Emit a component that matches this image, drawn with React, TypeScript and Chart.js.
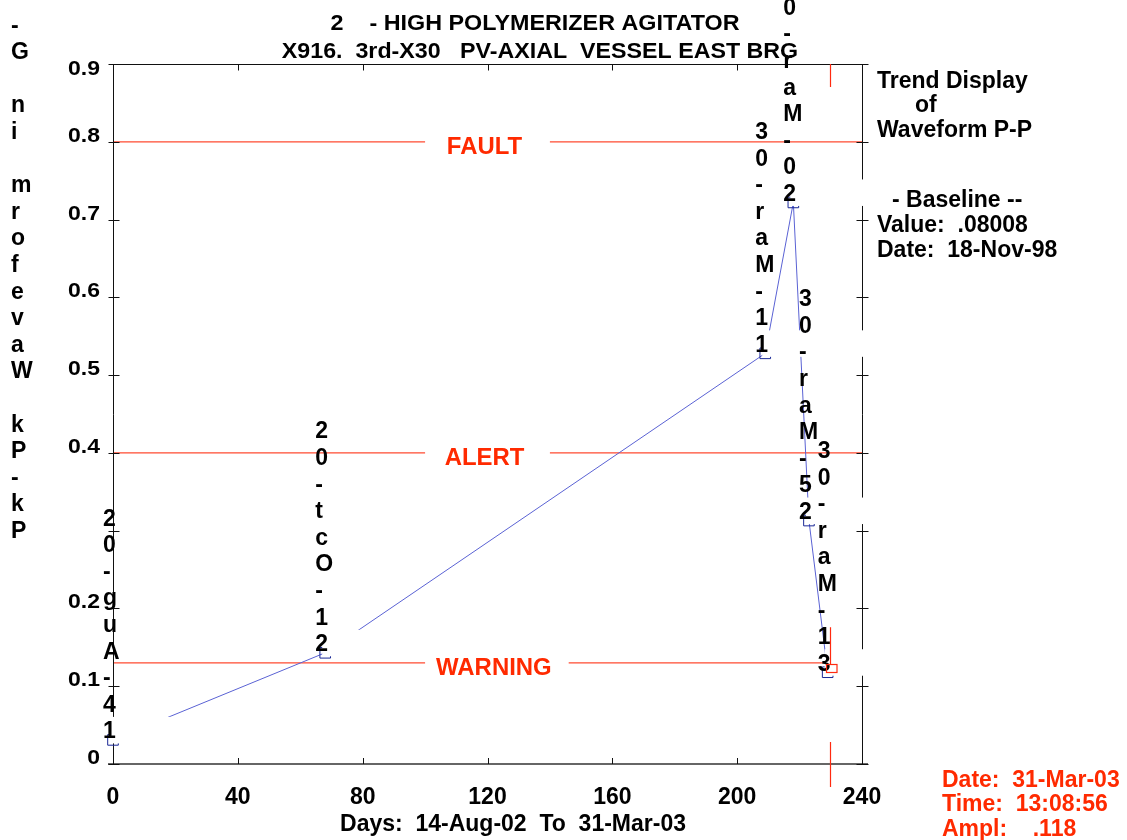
import React, { useEffect, useRef } from 'react';
import { Chart, registerables } from 'chart.js';

Chart.register(...registerables);

// ---- data ----
const pointDates = ['14-Aug-02', '21-Oct-02', '11-Mar-03', '20-Mar-03', '25-Mar-03', '31-Mar-03'];
const pointDays = [0, 68, 209, 218, 223, 229];
const pointValues = [0.031, 0.143, 0.528, 0.722, 0.313, 0.118];

const xTicks = [0, 40, 80, 120, 160, 200, 240];
const xTickLabels = ['0', '40', '80', '120', '160', '200', '240'];
const yTicks = [0, 0.1, 0.2, 0.3, 0.4, 0.5, 0.6, 0.7, 0.8, 0.9];
const yTickLabels = ['0', '0.1', '0.2', '', '0.4', '0.5', '0.6', '0.7', '0.8', '0.9'];

const alarmNames = ['FAULT', 'ALERT', 'WARNING'];
const alarmValues = [0.8, 0.4, 0.13];

const titleLines = ['2    - HIGH POLYMERIZER AGITATOR', 'X916.  3rd-X30   PV-AXIAL  VESSEL EAST BRG'];
const yAxisTitle = 'Pk-Pk Waveform in G-';
const xAxisTitle = 'Days:  14-Aug-02  To  31-Mar-03';
const infoLines = ['Trend Display', 'of', 'Waveform P-P'];
const baselineLines = ['- Baseline --', 'Value:  .08008', 'Date:  18-Nov-98'];
const cursorDay = 229;
const cursorValue = 0.118;
const cursorLines = ['Date:  31-Mar-03', 'Time:  13:08:56', 'Ampl:    .118'];

const FONT = '"Liberation Sans", Arial, Helvetica, sans-serif';
const RED_TEXT = '#ff2a00';
const RED_LINE = '#ff4a30';
const PITCH = 26.6;

type TOpts = { size?: number; sx?: number; sy?: number; align?: CanvasTextAlign; color?: string };

function drawText(ctx: CanvasRenderingContext2D, s: string, x: number, y: number, o: TOpts = {}) {
  const { size = 23, sx = 1, sy = 1, align = 'left', color = '#000' } = o;
  ctx.save();
  ctx.font = `bold ${size}px ${FONT}`;
  ctx.fillStyle = color;
  ctx.textAlign = align;
  ctx.textBaseline = 'alphabetic';
  ctx.translate(x, y);
  ctx.scale(sx, sy);
  ctx.fillText(s, 0, 0);
  ctx.restore();
}

function seg(ctx: CanvasRenderingContext2D, x1: number, y1: number, x2: number, y2: number) {
  ctx.beginPath();
  ctx.moveTo(x1, y1);
  ctx.lineTo(x2, y2);
  ctx.stroke();
}

function alarmGap(ctx: CanvasRenderingContext2D, xs: any, name: string) {
  ctx.save();
  ctx.font = `bold 23px ${FONT}`;
  const w = ctx.measureText(name).width * 1.04;
  ctx.restore();
  const gL = xs.getPixelForValue(100);
  const gR = Math.max(xs.getPixelForValue(140), gL + w + 28);
  return [gL, gR];
}

const decor = {
  id: 'trendDecor',
  beforeDatasetsDraw(chart: any) {
    const ctx: CanvasRenderingContext2D = chart.ctx;
    const { left, right, top, bottom } = chart.chartArea;
    const xs = chart.scales.x;
    const ys = chart.scales.y;
    ctx.save();
    // alarm lines
    ctx.strokeStyle = RED_LINE;
    ctx.lineWidth = 1.2;
    alarmValues.forEach((v, i) => {
      const yy = ys.getPixelForValue(v);
      const [gL, gR] = alarmGap(ctx, xs, alarmNames[i]);
      seg(ctx, left, yy, gL, yy);
      seg(ctx, gR, yy, right, yy);
    });
    // frame
    ctx.strokeStyle = '#111';
    ctx.lineWidth = 1;
    const L = Math.round(left) + 0.5;
    const R = Math.round(right) + 0.5;
    const T = Math.round(top) + 0.5;
    seg(ctx, L, T, R, T);
    seg(ctx, L, T, L, bottom);
    seg(ctx, R, T, R, bottom);
    ctx.strokeStyle = '#333';
    ctx.lineWidth = 1.6;
    seg(ctx, left - 5, bottom, right + 6, bottom);
    ctx.lineWidth = 1;
    ctx.strokeStyle = '#111';
    yTicks.forEach((v) => {
      const yy = Math.round(ys.getPixelForValue(v)) + 0.5;
      seg(ctx, L - 5, yy, L + 6, yy);
      seg(ctx, R - 6, yy, R + 6, yy);
    });
    xTicks.forEach((d) => {
      const xx = Math.round(xs.getPixelForValue(d)) + 0.5;
      seg(ctx, xx, bottom, xx, bottom - 6);
      seg(ctx, xx, T, xx, T + 6);
    });
    ctx.restore();
  },
  afterDatasetsDraw(chart: any) {
    const ctx: CanvasRenderingContext2D = chart.ctx;
    const { left, top, bottom } = chart.chartArea;
    const xs = chart.scales.x;
    const ys = chart.scales.y;
    ctx.save();
    // white label boxes
    ctx.fillStyle = '#fff';
    pointDays.forEach((d, i) => {
      const px = xs.getPixelForValue(d);
      const py = ys.getPixelForValue(pointValues[i]);
      ctx.fillRect(px - 3, py - 23, 103, 26.5);
    });
    // stacked point labels (read bottom to top)
    pointDates.forEach((s, i) => {
      const px = xs.getPixelForValue(pointDays[i]);
      const py = ys.getPixelForValue(pointValues[i]);
      for (let k = 0; k < s.length; k++) {
        drawText(ctx, s[k], px - 10, py - 1.5 - PITCH * k);
      }
    });
    // alarm labels
    alarmValues.forEach((v, i) => {
      const yy = ys.getPixelForValue(v);
      const [gL, gR] = alarmGap(ctx, xs, alarmNames[i]);
      drawText(ctx, alarmNames[i], (gL + gR) / 2 - 3, yy + 12, { align: 'center', color: RED_TEXT, sy: 1.05, sx: 1.04 });
    });
    // cursor
    const cx = xs.getPixelForValue(cursorDay);
    const cy = ys.getPixelForValue(cursorValue);
    ctx.strokeStyle = '#ff2a10';
    ctx.lineWidth = 1.2;
    const lx = Math.round(cx + 2) + 0.5;
    seg(ctx, lx, top, lx, top + 23);
    seg(ctx, lx, cy - 45, lx, cy - 8);
    seg(ctx, lx, bottom - 22, lx, bottom + 23);
    ctx.strokeRect(Math.round(cx - 2) + 0.5, Math.round(cy - 8) + 0.5, 10.5, 8);

    // y tick labels
    yTicks.forEach((v, i) => {
      if (!yTickLabels[i]) return;
      let yy = ys.getPixelForValue(v);
      if (i === yTicks.length - 1) yy = Math.max(yy, top + 11);
      drawText(ctx, yTickLabels[i], left - 13, yy, { align: 'right', sy: 0.88 });
    });
    // x tick labels
    xTicks.forEach((d, i) => {
      drawText(ctx, xTickLabels[i], xs.getPixelForValue(d), bottom + 40, { align: 'center' });
    });
    // axis titles
    drawText(ctx, xAxisTitle, 513, 831, { align: 'center' });
    for (let k = 0; k < yAxisTitle.length; k++) {
      drawText(ctx, yAxisTitle[k], 11, 538 - PITCH * k);
    }
    // main title
    drawText(ctx, titleLines[0], 535, 29.5, { align: 'center', sy: 0.94, sx: 1.015 });
    drawText(ctx, titleLines[1], 540, 58, { align: 'center', sy: 0.94, sx: 1.01 });
    // info block
    drawText(ctx, infoLines[0], 877, 88);
    drawText(ctx, infoLines[1], 915, 112);
    drawText(ctx, infoLines[2], 877, 136.5);
    drawText(ctx, baselineLines[0], 892, 206.5);
    drawText(ctx, baselineLines[1], 877, 232);
    drawText(ctx, baselineLines[2], 877, 256.5);
    cursorLines.forEach((s, i) => {
      drawText(ctx, s, 942, 787 + 24.3 * i, { color: RED_TEXT });
    });
    ctx.restore();
  },
};

export default function App() {
  const ref = useRef<HTMLCanvasElement>(null);
  useEffect(() => {
    const canvas = ref.current!;
    const chart = new Chart(canvas, {
      type: 'line',
      data: {
        datasets: [
          {
            data: pointDays.map((d, i) => ({ x: d, y: pointValues[i] })),
            borderColor: '#5a62d4',
            borderWidth: 1,
            pointStyle: 'rect',
            pointRadius: 7.5,
            pointBorderColor: '#1a2896',
            pointBackgroundColor: 'rgba(0,0,0,0)',
            pointBorderWidth: 1,
            tension: 0,
            fill: false,
            clip: false,
          } as any,
        ],
      },
      options: {
        responsive: false,
        animation: false,
        devicePixelRatio: 1,
        events: [],
        layout: { padding: { left: 113, right: 265, top: 64, bottom: 76 } },
        scales: {
          x: { type: 'linear', min: 0, max: 240, display: false },
          y: { type: 'linear', min: 0, max: 0.9, display: false },
        },
        plugins: { legend: { display: false }, tooltip: { enabled: false }, title: { display: false } },
      },
      plugins: [decor as any],
    });
    return () => chart.destroy();
  }, []);
  return (
    <div style={{ position: 'fixed', left: 0, top: 0, width: 1127, height: 840, background: '#fff' }}>
      <canvas ref={ref} width={1127} height={840} style={{ display: 'block', width: 1127, height: 840 }} />
    </div>
  );
}
